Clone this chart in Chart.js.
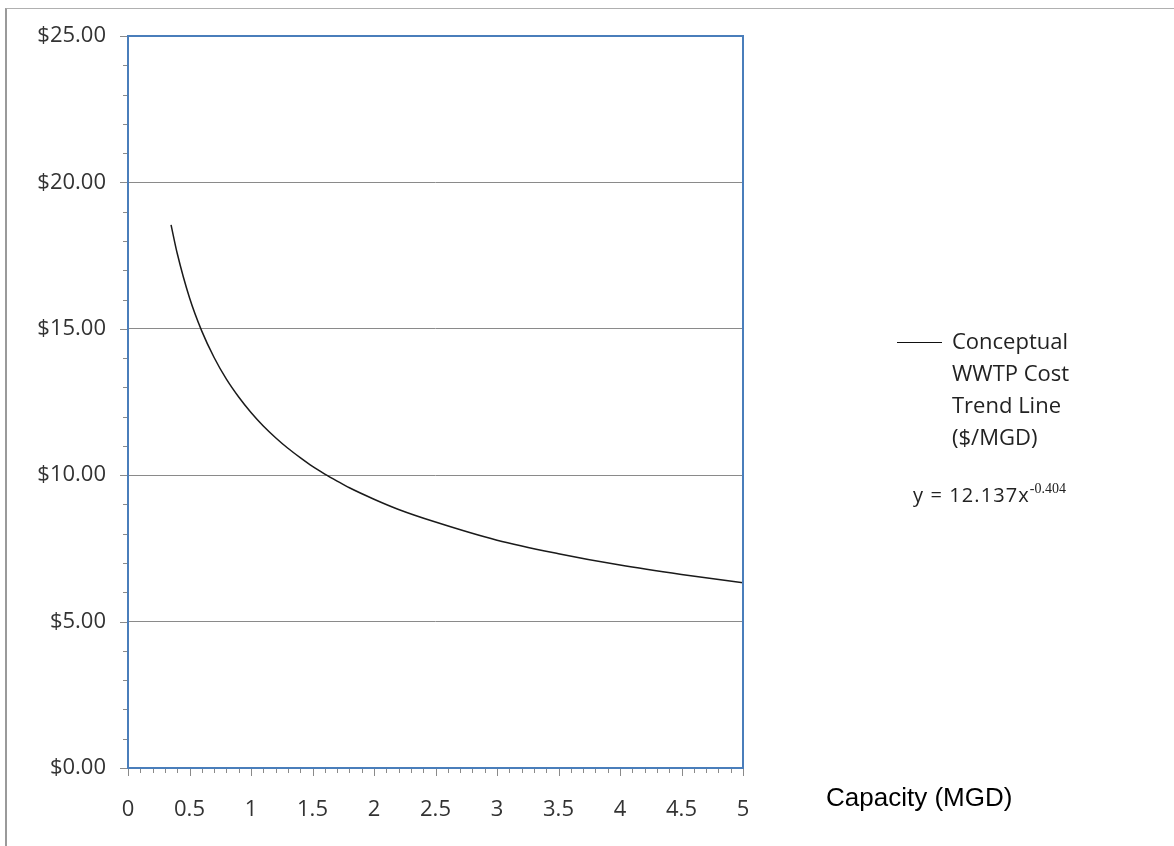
<!DOCTYPE html>
<html>
<head>
<meta charset="utf-8">
<script src="https://cdn.jsdelivr.net/npm/chart.js@4/dist/chart.umd.min.js"></script>
<style>
  body { margin: 0; background: #fff; }
  #wrap { position: relative; width: 1174px; height: 846px; overflow: hidden; }
  #frame { position: absolute; left: 5px; top: 8px; right: -2px; bottom: -2px;
           border-left: 2px solid #9a9a9a; border-top: 1px solid #b0b0b0; }
  canvas { position: absolute; left: 0; top: 0; }
  .txt { position: absolute; color: #222; font-family: "Open Sans", sans-serif; white-space: nowrap; }
  #legend { left: 952px; top: 324px; font-size: 22px; line-height: 32px; }
  #legline { position: absolute; left: 897px; top: 342px; width: 45px; height: 0; border-top: 1.5px solid #111; }
  #eq { left: 913px; top: 481px; font-size: 20px; letter-spacing: 1.1px; }
  #eq sup { font-family: "Liberation Serif", serif; font-size: 14px; letter-spacing: 0; position: relative; top: -1px; }
  #xtitle { left: 826px; top: 782px; font-family: "Liberation Sans", Arial, sans-serif; font-size: 26px; color: #000; }
</style>
</head>
<body>
<div id="wrap">
  <div id="frame"></div>
  <canvas id="grafica" width="1174" height="846"></canvas>
  <div id="legline"></div>
  <div class="txt" id="legend">Conceptual<br>WWTP Cost<br>Trend Line<br>($/MGD)</div>
  <div class="txt" id="eq">y = 12.137x<sup>-0.404</sup></div>
  <div class="txt" id="xtitle">Capacity (MGD)</div>
</div>
<script>
// capacity (MGD) and cost ($/MGD)
var capacidad = [0.35, 0.4, 0.5, 0.6, 0.7, 0.8, 0.9, 1, 1.1, 1.2, 1.3, 1.4, 1.5, 1.6, 1.7, 1.8, 2, 2.2, 2.5, 3, 3.5, 4, 4.5, 5];
var costo = [18.55, 17.58, 16.06, 14.92, 14.02, 13.28, 12.67, 12.14, 11.68, 11.28, 10.92, 10.6, 10.3, 10.04, 9.8, 9.57, 9.18, 8.83, 8.4, 7.78, 7.32, 6.93, 6.61, 6.33];
var ticksX = [0, 0.5, 1, 1.5, 2, 2.5, 3, 3.5, 4, 4.5, 5];
var ticksY = [0, 5, 10, 15, 20, 25];

var azul = "#4a7ebb";
var gris = "#8a8a8a";
var fuente = { family: "Open Sans", size: 22 };

var puntos = capacidad.map(function (x, i) { return { x: x, y: costo[i] }; });

// blue frame and the small tick marks Excel draws
var marcas = {
    id: "marcas",
    afterDraw: function (chart) {
        var ctx = chart.ctx;
        var a = chart.chartArea;
        var sx = chart.scales.x;
        var sy = chart.scales.y;
        ctx.save();
        ctx.strokeStyle = gris;
        ctx.lineWidth = 1;
        for (var v = 0; v <= 25; v++) {
            var py = Math.round(sy.getPixelForValue(v)) + 0.5;
            var largo = (v % 5 === 0) ? 8 : 5;
            ctx.beginPath();
            ctx.moveTo(a.left - largo, py);
            ctx.lineTo(a.left, py);
            ctx.stroke();
        }
        for (var i = 0; i <= 50; i++) {
            var px = Math.round(sx.getPixelForValue(i / 10)) + 0.5;
            var l2 = (i % 5 === 0) ? 8 : 5;
            ctx.beginPath();
            ctx.moveTo(px, a.bottom);
            ctx.lineTo(px, a.bottom + l2);
            ctx.stroke();
        }
        ctx.strokeStyle = azul;
        ctx.lineWidth = 2;
        ctx.strokeRect(a.left, a.top, a.right - a.left, a.bottom - a.top);
        ctx.restore();
    }
};

var grafica = new Chart(document.getElementById("grafica"), {
    type: "line",
    data: {
        datasets: [{
            label: "Conceptual WWTP Cost Trend Line ($/MGD)",
            data: puntos,
            borderColor: "#1a1a1a",
            borderWidth: 1.5,
            pointRadius: 0,
            cubicInterpolationMode: "monotone",
            fill: false
        }]
    },
    options: {
        responsive: false,
        animation: false,
        layout: { padding: { left: 0, top: 36, right: 431, bottom: 0 } },
        plugins: { legend: { display: false }, tooltip: { enabled: false } },
        scales: {
            x: {
                type: "linear",
                min: 0,
                max: 5,
                afterBuildTicks: function (s) { s.ticks = ticksX.map(function (v) { return { value: v }; }); },
                afterFit: function (s) { s.height = 78; },
                ticks: {
                    color: "#333",
                    font: fuente,
                    padding: 29,
                    maxRotation: 0,
                    callback: function (v) { return String(v); }
                },
                grid: { display: false, drawTicks: false },
                border: { display: false }
            },
            y: {
                min: 0,
                max: 25,
                afterBuildTicks: function (s) { s.ticks = ticksY.map(function (v) { return { value: v }; }); },
                afterFit: function (s) { s.width = 128; },
                ticks: {
                    color: "#333",
                    font: fuente,
                    padding: 22,
                    callback: function (v) { return "$" + v.toFixed(2); }
                },
                grid: {
                    drawTicks: false,
                    color: function (c) { return (c.tick && c.tick.value > 0 && c.tick.value < 25) ? gris : "transparent"; }
                },
                border: { display: false }
            }
        }
    },
    plugins: [marcas]
});
</script>
</body>
</html>
